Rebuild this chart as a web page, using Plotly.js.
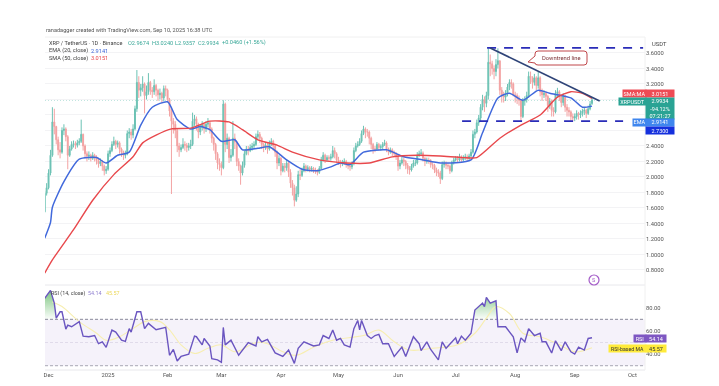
<!DOCTYPE html>
<html><head><meta charset="utf-8">
<script src="https://cdn.plot.ly/plotly-3.0.1.min.js"></script>
<style>html,body{margin:0;padding:0;background:#fff}#c{width:719px;height:386px;filter:blur(0.35px)}</style>
</head><body><div id="c"></div>
<script>
const opens=[1.55,1.79,1.86,2.05,2.28,2.71,2.65,2.48,2.35,2.32,
2.60,2.62,2.52,2.28,2.36,2.42,2.43,2.41,2.44,2.46,
2.55,2.40,2.30,2.27,2.28,2.24,2.28,2.26,2.21,2.17,
2.20,2.14,2.08,2.10,2.30,2.34,2.42,2.46,2.42,2.44,
2.36,2.32,2.28,2.30,2.56,2.58,2.54,2.62,2.88,3.22,
3.12,3.15,3.20,3.05,3.10,3.22,3.12,3.10,3.18,3.12,
3.06,3.08,3.02,3.14,3.12,3.00,2.85,2.72,2.68,2.60,
2.40,2.35,2.38,2.42,2.41,2.38,2.40,2.42,2.72,2.75,
2.68,2.58,2.64,2.68,2.62,2.68,2.70,2.62,2.50,2.42,
2.30,2.18,2.16,2.12,2.94,2.42,2.50,2.25,2.28,2.50,
2.45,2.20,2.14,2.05,2.15,2.30,2.36,2.34,2.38,2.40,
2.42,2.52,2.55,2.50,2.42,2.38,2.41,2.36,2.43,2.46,
2.40,2.32,2.18,2.24,2.08,2.14,2.12,2.18,2.06,1.92,
1.86,1.70,1.78,2.03,2.02,2.08,2.14,2.10,2.12,2.10,
2.11,2.09,2.08,2.06,2.11,2.22,2.28,2.22,2.25,2.24,
2.26,2.34,2.30,2.22,2.20,2.17,2.19,2.20,2.16,2.14,
2.13,2.17,2.34,2.40,2.42,2.46,2.56,2.62,2.58,2.58,
2.50,2.42,2.36,2.36,2.42,2.38,2.39,2.42,2.44,2.36,
2.32,2.35,2.31,2.30,2.26,2.14,2.18,2.22,2.20,2.15,
2.11,2.09,2.14,2.18,2.18,2.28,2.30,2.31,2.24,2.20,
2.22,2.21,2.16,2.15,2.09,2.06,2.05,1.98,2.16,2.17,
2.15,2.14,2.08,2.18,2.22,2.24,2.22,2.26,2.22,2.25,
2.26,2.24,2.27,2.32,2.55,2.58,2.70,2.76,2.90,3.00,
2.95,3.05,3.48,3.46,3.40,3.36,3.45,3.50,3.12,3.05,
3.03,3.08,3.16,3.22,3.20,3.06,3.05,3.02,2.99,2.78,
2.98,3.00,3.05,3.30,3.28,3.22,3.28,3.18,3.28,3.10,
3.06,3.08,3.04,2.92,2.98,2.86,2.84,3.08,3.10,3.04,
2.96,3.04,2.90,2.86,2.84,2.78,2.76,2.78,2.82,2.80,
2.82,2.85,2.86,2.82,2.88,2.9474];
const closes=[1.79,1.86,2.05,2.28,2.71,2.65,2.48,2.35,2.32,2.60,
2.62,2.52,2.28,2.36,2.42,2.43,2.41,2.44,2.46,2.55,
2.40,2.30,2.27,2.28,2.24,2.28,2.26,2.21,2.17,2.20,
2.14,2.08,2.10,2.30,2.34,2.42,2.46,2.42,2.44,2.36,
2.32,2.28,2.30,2.56,2.58,2.54,2.62,2.88,3.22,3.12,
3.15,3.20,3.05,3.10,3.22,3.12,3.10,3.18,3.12,3.06,
3.08,3.02,3.14,3.12,3.00,2.85,2.72,2.68,2.60,2.40,
2.35,2.38,2.42,2.41,2.38,2.40,2.42,2.72,2.75,2.68,
2.58,2.64,2.68,2.62,2.68,2.70,2.62,2.50,2.42,2.30,
2.18,2.16,2.12,2.94,2.42,2.50,2.25,2.28,2.50,2.45,
2.20,2.14,2.05,2.15,2.30,2.36,2.34,2.38,2.40,2.42,
2.52,2.55,2.50,2.42,2.38,2.41,2.36,2.43,2.46,2.40,
2.32,2.18,2.24,2.08,2.14,2.12,2.18,2.06,1.92,1.86,
1.70,1.78,2.03,2.02,2.08,2.14,2.10,2.12,2.10,2.11,
2.09,2.08,2.06,2.11,2.22,2.28,2.22,2.25,2.24,2.26,
2.34,2.30,2.22,2.20,2.17,2.19,2.20,2.16,2.14,2.13,
2.17,2.34,2.40,2.42,2.46,2.56,2.62,2.58,2.58,2.50,
2.42,2.36,2.36,2.42,2.38,2.39,2.42,2.44,2.36,2.32,
2.35,2.31,2.30,2.26,2.14,2.18,2.22,2.20,2.15,2.11,
2.09,2.14,2.18,2.18,2.28,2.30,2.31,2.24,2.20,2.22,
2.21,2.16,2.15,2.09,2.06,2.05,1.98,2.16,2.17,2.15,
2.14,2.08,2.18,2.22,2.24,2.22,2.26,2.22,2.25,2.26,
2.24,2.27,2.32,2.55,2.58,2.70,2.76,2.90,3.00,2.95,
3.05,3.48,3.46,3.40,3.36,3.45,3.50,3.12,3.05,3.03,
3.08,3.16,3.22,3.20,3.06,3.05,3.02,2.99,2.78,2.98,
3.00,3.05,3.30,3.28,3.22,3.28,3.18,3.28,3.10,3.06,
3.08,3.04,2.92,2.98,2.86,2.84,3.08,3.10,3.04,2.96,
3.04,2.90,2.86,2.84,2.78,2.76,2.78,2.82,2.80,2.82,
2.85,2.86,2.82,2.88,2.94,2.9934];
const highs=[1.82,1.92,2.10,2.35,2.90,2.88,2.66,2.52,2.45,2.64,
2.68,2.64,2.54,2.40,2.46,2.47,2.46,2.48,2.50,2.74,
2.56,2.42,2.33,2.33,2.30,2.32,2.30,2.28,2.24,2.24,
2.22,2.16,2.14,2.34,2.38,2.46,2.52,2.48,2.47,2.46,
2.38,2.34,2.34,2.60,2.63,2.62,2.68,2.92,3.38,3.30,
3.20,3.30,3.22,3.18,3.34,3.24,3.16,3.26,3.20,3.14,
3.14,3.10,3.18,3.18,3.14,3.02,2.88,2.76,2.72,2.62,
2.44,2.42,2.50,2.46,2.44,2.44,2.48,2.83,2.80,2.78,
2.70,2.68,2.72,2.70,2.72,2.76,2.72,2.64,2.52,2.44,
2.32,2.24,2.20,2.99,2.96,2.56,2.52,2.36,2.72,2.56,
2.46,2.24,2.16,2.20,2.34,2.40,2.40,2.42,2.44,2.46,
2.56,2.60,2.58,2.52,2.44,2.45,2.44,2.47,2.50,2.48,
2.42,2.34,2.28,2.26,2.18,2.18,2.22,2.20,2.10,1.96,
1.90,1.88,2.08,2.10,2.12,2.18,2.16,2.15,2.14,2.14,
2.13,2.12,2.10,2.14,2.26,2.32,2.30,2.28,2.28,2.30,
2.40,2.38,2.32,2.26,2.22,2.22,2.24,2.22,2.18,2.17,
2.20,2.38,2.44,2.46,2.50,2.60,2.66,2.64,2.62,2.60,
2.52,2.44,2.40,2.45,2.44,2.42,2.45,2.48,2.46,2.38,
2.38,2.37,2.34,2.32,2.28,2.22,2.26,2.25,2.22,2.18,
2.14,2.17,2.22,2.22,2.32,2.34,2.36,2.33,2.26,2.25,
2.25,2.23,2.19,2.17,2.12,2.10,2.08,2.20,2.21,2.20,
2.18,2.16,2.21,2.25,2.27,2.27,2.30,2.28,2.28,2.30,
2.29,2.30,2.36,2.60,2.62,2.74,2.80,2.94,3.06,3.04,
3.10,3.66,3.58,3.50,3.44,3.52,3.66,3.50,3.16,3.10,
3.12,3.20,3.26,3.26,3.22,3.10,3.08,3.05,3.00,3.02,
3.04,3.10,3.36,3.36,3.30,3.33,3.30,3.36,3.30,3.14,
3.12,3.10,3.06,3.02,3.00,2.90,3.12,3.15,3.12,3.06,
3.08,3.06,2.94,2.90,2.86,2.82,2.82,2.86,2.84,2.86,
2.88,2.90,2.88,2.92,2.98,3.02];
const lows=[1.54,1.76,1.84,2.02,2.26,2.55,2.42,2.28,2.24,2.30,
2.54,2.46,2.10,2.26,2.34,2.38,2.36,2.38,2.41,2.44,
2.34,2.24,2.20,2.22,2.20,2.22,2.20,2.16,2.12,2.14,
2.08,2.02,2.04,2.08,2.26,2.32,2.40,2.36,2.38,2.30,
2.26,2.22,2.24,2.28,2.50,2.48,2.50,2.60,2.84,3.02,
3.04,3.10,2.82,3.00,3.06,3.06,3.02,3.06,3.04,2.98,
3.00,2.96,2.98,3.04,2.96,2.78,1.78,2.56,2.50,2.32,
2.26,2.32,2.36,2.34,2.32,2.34,2.36,2.40,2.66,2.60,
2.50,2.54,2.60,2.56,2.58,2.64,2.56,2.44,2.34,2.22,
2.10,2.08,2.02,2.10,2.32,2.36,2.18,2.20,2.26,2.36,
2.14,2.08,1.90,2.02,2.12,2.28,2.28,2.32,2.34,2.36,
2.40,2.48,2.44,2.36,2.32,2.35,2.30,2.34,2.40,2.34,
2.26,2.10,2.14,2.02,2.06,2.06,2.08,2.00,1.86,1.76,
1.62,1.68,1.74,1.96,2.00,2.06,2.06,2.07,2.06,2.07,
2.05,2.04,2.02,2.04,2.10,2.20,2.18,2.20,2.20,2.21,
2.24,2.24,2.18,2.16,2.12,2.14,2.16,2.12,2.10,2.08,
2.10,2.15,2.32,2.38,2.40,2.44,2.54,2.50,2.52,2.42,
2.36,2.30,2.32,2.34,2.34,2.34,2.36,2.40,2.32,2.28,
2.30,2.27,2.26,2.22,2.08,2.10,2.16,2.14,2.10,2.04,
2.03,2.07,2.12,2.14,2.16,2.26,2.27,2.20,2.14,2.17,
2.17,2.12,2.10,2.05,2.01,2.00,1.91,1.96,2.12,2.10,
2.10,2.04,2.06,2.16,2.20,2.18,2.20,2.18,2.20,2.22,
2.20,2.22,2.25,2.30,2.50,2.56,2.66,2.72,2.86,2.84,
2.90,3.00,3.30,3.32,3.26,3.30,3.40,3.06,2.96,2.96,
2.98,3.04,3.12,3.14,3.04,2.96,2.94,2.92,2.72,2.76,
2.92,2.96,3.02,3.20,3.14,3.18,3.12,3.14,3.04,2.98,
3.02,2.98,2.84,2.88,2.78,2.78,2.82,3.02,2.98,2.90,
2.92,2.84,2.78,2.78,2.72,2.72,2.72,2.74,2.74,2.76,
2.78,2.80,2.76,2.80,2.86,2.93];

const emaDays=[0,3,4,10,18,27,32,38,44,50,56,64,69,76,81,86,92,99,103,111,117,126,134,142,149,154,159,166,178,187,197,206,222,228,236,242,249,257,263,274,280,285];
const emaVals=[1.21,1.41,1.61,1.94,2.23,2.25,2.18,2.28,2.32,2.67,2.90,2.97,2.74,2.62,2.65,2.61,2.46,2.48,2.35,2.37,2.39,2.22,2.10,2.08,2.13,2.18,2.16,2.32,2.35,2.26,2.22,2.18,2.22,2.57,3.02,3.08,2.99,3.12,3.08,3.02,2.90,2.9141];
const smaDays=[0,4,15,25,36,46,51,58,66,76,86,96,103,111,121,129,143,157,169,181,194,206,218,225,237,248,258,267,274,280,285];
const smaVals=[0.76,0.93,1.32,1.70,2.03,2.26,2.44,2.54,2.62,2.63,2.72,2.71,2.61,2.48,2.41,2.32,2.22,2.18,2.18,2.26,2.28,2.27,2.25,2.25,2.50,2.67,2.80,3.03,3.10,3.08,3.0151];

const rsiDays=[0,3,5,6,8,9,11,12,14,18,20,23,26,28,30,32,35,37,40,42,44,45,48,50,52,54,58,63,65,67,69,71,75,78,79,82,83,86,87,90,92,93,94,97,101,106,110,111,113,116,120,124,127,130,132,135,140,143,145,148,150,152,154,156,159,161,163,164,165,168,170,172,174,176,179,182,186,188,192,195,196,199,201,205,207,209,214,215,217,219,222,224,228,229,230,232,235,236,240,244,246,248,250,252,255,258,259,261,264,266,269,271,274,276,278,281,283,285];
const rsiVals=[88,95,84,71,76.5,76.5,61.6,65,63.6,68,55.5,55,56,49,50.6,45.8,60.7,59,52,51,62,59,76.5,76.5,62,66.5,61,63,39,44,34,38,40,55.5,55,48,53.5,47,36,35,33,63,48,52,39,50,47,55,50.6,52.7,41,38,43.5,32,45,50.6,47,48,56,53.5,60.7,52,53.5,48,46,62,69,61,69,56,53.5,56,57,49,49,38,46,38,55,49,43,50.6,44,35,50.6,45,54,49,55.5,52,58,78,84,81,89,84,86,63.6,63.6,55,41,54,50.6,62,56,58,50.6,50.6,41,51.5,43,50.6,42,40,46,43.5,53.5,54.14];
const rsiMaDays=[4,9,18,27,32,39,46,52,60,65,71,78,85,92,99,110,116,124,131,140,150,166,174,182,190,202,215,224,230,235,242,249,258,267,276,285];
const rsiMaVals=[85,81,68,58,52,55,62,68,68,61,48,40.6,45,48,42,50,49,42,39,46,52,56,60.7,50.6,43.5,45,48,58,71,81,75,58,55,49,42,45.57];

const priceTicks=[3.6,3.4,3.2,3.0,2.8,2.6,2.4,2.2,2.0,1.8,1.6,1.4,1.2,1.0,0.8];
const priceLabels=['3.6000','3.4000','3.2000','','','','2.4000','2.2000','2.0000','1.8000','1.6000','1.4000','1.2000','1.0000','0.8000'];
const rsiTicks=[80,60,40];
const rsiLabels=['80.00','60.00','40.00'];
const monthDays=[2,33,64,92,123,153,184,214,245,276,306];
const monthLabels=['Dec','2025','Feb','Mar','Apr','May','Jun','Jul','Aug','Sep','Oct'];
const upperLevel=3.665, lowerLevel=2.72, lastPrice=2.9934;
const trendDays=[232,289], trendVals=[3.665,2.98];

const day=i=>new Date(Date.UTC(2024,10,29)+i*864e5).toISOString().slice(0,16).replace('T',' ');
const dates=closes.map((_,i)=>day(i));
const F='Roboto, "Liberation Sans", sans-serif';
const xp=px=>(px-45)/600, yp=py=>(370-py)/333;
function guessDay(px){return (px-44.7)/1.92;}

function over(from,to){
  const d=[],v=[];
  rsiDays.forEach((t,i)=>{if(t>=from&&t<=to){d.push(day(t));v.push(rsiVals[i]);}});
  return {x:d.concat([d[d.length-1],d[0]]),y:v.concat([70,70]),xaxis:'x',yaxis:'y2',mode:'none',type:'scatter',fill:'toself',
    fillgradient:{type:'vertical',start:70,stop:92,colorscale:[[0,'rgba(76,175,80,0.02)'],[1,'rgba(76,175,80,0.65)']]},hoverinfo:'skip',showlegend:false};
}
const traces=[
 {type:'candlestick',x:dates,open:opens,high:highs,low:lows,close:closes,xaxis:'x',yaxis:'y',
  increasing:{line:{color:'#6cc2b4',width:1},fillcolor:'#6cc2b4'},
  decreasing:{line:{color:'#f3a3a3',width:1},fillcolor:'#ef8a8a'},whiskerwidth:0,showlegend:false},
 {type:'scatter',mode:'lines',x:emaDays.map(day),y:emaVals,line:{color:'#4169dc',width:1.5,shape:'spline',smoothing:0.6},xaxis:'x',yaxis:'y',showlegend:false},
 {type:'scatter',mode:'lines',x:smaDays.map(day),y:smaVals,line:{color:'#e8484c',width:1.4,shape:'spline',smoothing:0.6},xaxis:'x',yaxis:'y',showlegend:false},
 over(0,6),over(224,236),
 {type:'scatter',mode:'lines',x:rsiMaDays.map(day),y:rsiMaVals,line:{color:'#f7eeb0',width:1.1,shape:'spline'},xaxis:'x',yaxis:'y2',showlegend:false},
 {type:'scatter',mode:'lines',x:rsiDays.map(day),y:rsiVals,line:{color:'#6a55c0',width:1.4},xaxis:'x',yaxis:'y2',showlegend:false}
];
const hl=(yref,y,color,dash,w)=>({type:'line',xref:'paper',yref,x0:0,x1:1,y0:y,y1:y,line:{color,width:w||1,dash:dash||'solid'},layer:'below'});
const seg=(a,b,y)=>({type:'line',xref:'x',yref:'y',x0:day(a),x1:day(b),y0:y,y1:y,line:{color:'#2a2cb8',width:1.7,dash:'9px,8px'}});
const shapes=[
 {type:'rect',xref:'paper',yref:'y2',x0:0,x1:1,y0:30,y1:70,fillcolor:'rgba(126,87,194,0.08)',line:{width:0},layer:'below'},
 hl('y2',70,'#8a8a9a','3px,2px'),hl('y2',50,'#e0dbea','3px,2px'),hl('y2',30,'#a8a8b4','3px,2px'),
 hl('y',lastPrice,'#7cc8bc','1px,2px'),
 {type:'line',xref:'paper',yref:'paper',x0:0,x1:1,y0:1,y1:1,line:{color:'#f0f0f0',width:1}},
 {type:'line',xref:'paper',yref:'paper',x0:0,x1:1,y0:yp(285),y1:yp(285),line:{color:'#e8e8ec',width:1}},
 {type:'line',xref:'paper',yref:'paper',x0:0,x1:1,y0:0,y1:0,line:{color:'#e8e8ec',width:1}},
 {type:'line',xref:'paper',yref:'paper',x0:1,x1:1,y0:0,y1:1,line:{color:'#f0f0f0',width:1}},
 seg(guessDay(487),guessDay(643),upperLevel),
 seg(guessDay(462),guessDay(623),lowerLevel),
 {type:'line',xref:'x',yref:'y',x0:day(trendDays[0]),x1:day(trendDays[1]),y0:trendVals[0],y1:trendVals[1],line:{color:'#2f4478',width:1.7}},
 {type:'circle',xref:'paper',yref:'paper',x0:xp(589),x1:xp(599),y0:yp(285),y1:yp(275),fillcolor:'#fff',line:{color:'#a45cc8',width:1.2}},
 {type:'path',xref:'paper',yref:'paper',fillcolor:'#fff',line:{color:'#c0474a',width:1},
  path:`M ${xp(538)} ${yp(51)} L ${xp(584)} ${yp(51)} Q ${xp(587)} ${yp(51)} ${xp(587)} ${yp(54)} L ${xp(587)} ${yp(62)} Q ${xp(587)} ${yp(65)} ${xp(584)} ${yp(65)} L ${xp(538)} ${yp(65)} Q ${xp(535)} ${yp(65)} ${xp(535)} ${yp(63)} L ${xp(528)} ${yp(62)} L ${xp(535)} ${yp(56)} L ${xp(535)} ${yp(54)} Q ${xp(535)} ${yp(51)} ${xp(538)} ${yp(51)} Z`}
];
const S=5.6;
const txt=(px,py,text,color,size,anchor)=>({xref:'paper',yref:'paper',x:xp(px),y:yp(py),text,showarrow:false,xanchor:anchor||'left',yanchor:'middle',font:{family:F,size:size||S,color},borderpad:0});
const badge=(x0,x1,y0,y1,text,bg,color,size)=>({xref:'paper',yref:'paper',x:xp(x0),y:yp(y0),xanchor:'left',yanchor:'top',width:x1-x0,height:y1-y0,text,showarrow:false,bgcolor:bg,borderpad:0,align:'center',valign:'middle',font:{family:F,size:size||5.5,color:color||'#fff'}});
const TEAL='#2aa394';
const annotations=[
 txt(45,30,'ranadagger created with TradingView.com, Sep 10, 2025 16:38 UTC','#555'),
 txt(48,42.5,'XRP / TetherUS · 1D · Binance','#444'),
 txt(127,42.5,'O2.9674','#3aa898'),txt(151,42.5,'H3.0240','#3aa898'),txt(174,42.5,'L2.9357','#3aa898'),txt(197,42.5,'C2.9934','#3aa898'),txt(221,42.5,'+0.0460 (+1.56%)','#3aa898'),
 txt(48,50.5,'EMA (20, close)','#444'),txt(90,50.5,'2.9141','#3d66d9'),
 txt(48,58,'SMA (50, close)','#444'),txt(90,58,'3.0151','#e8484c'),
 txt(561,58,'Downtrend line','#7a2f33',5.8,'center'),
 txt(651,44,'USDT','#444',5.8),
 txt(50,293,'RSI (14, close)','#444',5.4),txt(87,293,'54.14','#8f7fd0',5.4),txt(105,293,'45.57','#ecd85a',5.4),
 txt(594,280,'S','#a45cc8',5.5,'center'),
 badge(622,645,89,96,'SMA:MA','#ee4b55'),badge(645,673,89,96,'3.0151','#ee4b55'),
 badge(618,645,97,104,'XRPUSDT',TEAL),badge(645,673,97,118,'2.9934<br>-94.12%<br>07:21:27',TEAL),
 badge(632,645,118,124.5,'EMA','#3f86ee'),badge(645,673,118,124.5,'2.9141','#3f86ee'),
 badge(645,673,125.5,132.5,'2.7300','#1530dd'),
 badge(633,645,334,341,'RSI','#7e57c2'),badge(645,665,334,341,'54.14','#7e57c2'),
 badge(608,645,344,351,'RSI-based MA','#ffeb3b','#333',5.2),badge(645,665,344,351,'45.57','#ffeb3b','#333')
];
const layout={width:719,height:386,margin:{l:45,r:74,t:37,b:16},paper_bgcolor:'#fff',plot_bgcolor:'#fff',showlegend:false,
 xaxis:{type:'date',domain:[0,1],anchor:'y2',range:[day(0.15),day(312.6)],rangeslider:{visible:false},tickmode:'array',tickvals:monthDays.map(day),ticktext:monthLabels,
  showgrid:false,zeroline:false,showline:false,ticks:'',tickangle:0,tickfont:{family:F,size:5.8,color:'#555'}},
 yaxis:{domain:[85/333,1],range:[0.606,3.806],side:'right',anchor:'x',tickmode:'array',tickvals:priceTicks,ticktext:priceLabels,showgrid:true,gridcolor:'#f3f3f5',zeroline:false,showline:false,ticks:'',tickfont:{family:F,size:5.8,color:'#555'}},
 yaxis2:{domain:[0,85/333],range:[26.3,99.6],side:'right',anchor:'x',tickmode:'array',tickvals:rsiTicks,ticktext:rsiLabels,showgrid:false,zeroline:false,showline:false,ticks:'',tickfont:{family:F,size:5.8,color:'#555'}},
 shapes,annotations};
Plotly.newPlot('c',traces,layout,{displayModeBar:false,staticPlot:true});
</script></body></html>
